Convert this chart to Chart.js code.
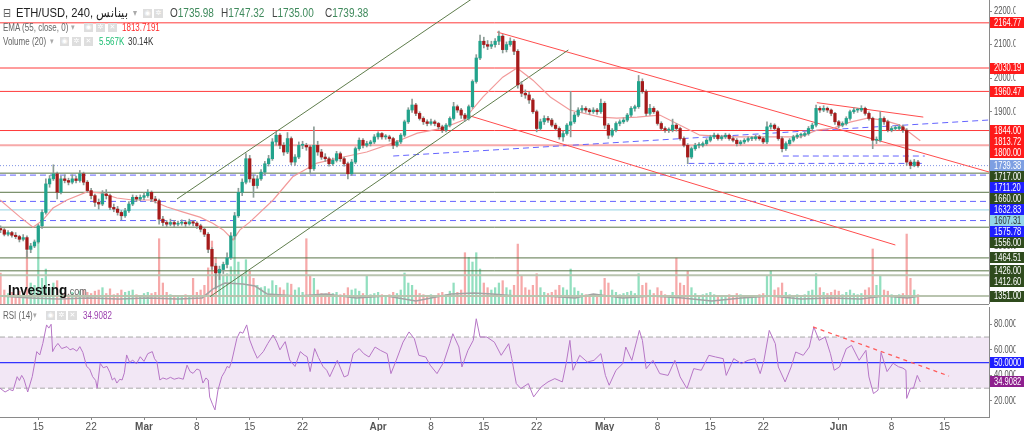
<!DOCTYPE html>
<html>
<head>
<meta charset="utf-8">
<title>ETH/USD 240</title>
<script src="https://cdn.jsdelivr.net/npm/chart.js@4"></script>
<style>
  body { margin: 0; width: 1024px; height: 431px; overflow: hidden; background: #fff; font-family: "Liberation Sans", Arial, sans-serif; position: relative; }
  canvas { position: absolute; left: 0; }
  #price { top: 0; }
  #rsi { top: 305px; }
  .sep { position: absolute; left: 0; width: 989px; top: 304px; height: 1px; background: #8a8a8a; }
  .t { position: absolute; white-space: nowrap; line-height: 1; transform: scaleX(0.8); transform-origin: 0 50%; }
  .ic { position: absolute; width: 9px; height: 9px; background: #dedede; color: #fff; font-size: 7px; line-height: 9px; text-align: center; font-family: "DejaVu Sans", sans-serif; }
</style>
</head>
<body>
<canvas id="price" width="1024" height="304"></canvas>
<div class="sep"></div>
<canvas id="rsi" width="1024" height="126"></canvas>

<!-- legend / header texts -->
<div class="t" style="left:3px;top:7px;font-size:12px;color:#555;font-family:'DejaVu Sans'">⊟</div>
<div class="t" style="left:16px;top:6px;font-size:13px;color:#222;transform:scaleX(0.86)">ETH/USD, 240, بينانس</div>
<div class="t" style="left:133px;top:8px;font-size:10px;color:#aaa">▾</div>
<div class="ic" style="left:143px;top:9px">◉</div><div class="ic" style="left:154px;top:9px">✲</div>
<div class="t" style="left:170px;top:7px;font-size:12.5px;color:#444">O<span style="color:#3f8a5c">1735.98</span></div>
<div class="t" style="left:221px;top:7px;font-size:12.5px;color:#444">H<span style="color:#3f8a5c">1747.32</span></div>
<div class="t" style="left:272px;top:7px;font-size:12.5px;color:#444">L<span style="color:#3f8a5c">1735.00</span></div>
<div class="t" style="left:325px;top:7px;font-size:12.5px;color:#444">C<span style="color:#3f8a5c">1739.38</span></div>

<div class="t" style="left:3px;top:23px;font-size:10px;color:#666">EMA (55, close, 0)</div>
<div class="t" style="left:71px;top:23px;font-size:9px;color:#aaa">▾</div>
<div class="ic" style="left:84px;top:23px">◉</div><div class="ic" style="left:96px;top:23px">✲</div><div class="ic" style="left:108px;top:23px">✕</div>
<div class="t" style="left:122px;top:23px;font-size:10px;color:#ff2b2b">1813.7191</div>

<div class="t" style="left:3px;top:37px;font-size:10px;color:#666">Volume (20)</div>
<div class="t" style="left:50px;top:37px;font-size:9px;color:#aaa">▾</div>
<div class="ic" style="left:60px;top:37px">◉</div><div class="ic" style="left:72px;top:37px">✲</div><div class="ic" style="left:84px;top:37px">✕</div>
<div class="t" style="left:99px;top:37px;font-size:10px;color:#1dbf73">5.567K</div>
<div class="t" style="left:128px;top:37px;font-size:10px;color:#333">30.14K</div>

<div class="t" style="left:8px;top:282px;font-size:15px;font-weight:bold;color:#111;transform:scaleX(0.9)">Investing<span style="font-size:10px;font-weight:normal;color:#666">.com</span></div>

<div class="t" style="left:3px;top:311px;font-size:10px;color:#666">RSI (14)</div>
<div class="t" style="left:33px;top:311px;font-size:9px;color:#aaa">▾</div>
<div class="ic" style="left:46px;top:311px">◉</div><div class="ic" style="left:57px;top:311px">✲</div><div class="ic" style="left:68px;top:311px">✕</div>
<div class="t" style="left:83px;top:311px;font-size:10px;color:#9b3fae">34.9082</div>

<script>
// 12h candles, [open, high, low, close]; first candle on 10 Feb (day -19 from 1 Mar)
const firstDay = -19;
const candleStep = 0.5;
const candles = [
[1552,1560,1540,1548],[1548,1552,1530,1535],[1535,1546,1530,1540],[1540,1544,1526,1532],[1532,1540,1522,1528],
[1528,1532,1512,1520],[1520,1534,1515,1525],[1525,1530,1468,1490],[1490,1508,1480,1500],[1500,1518,1495,1512],
[1512,1565,1508,1560],[1560,1608,1552,1600],[1600,1700,1595,1685],[1685,1710,1675,1700],[1700,1742,1695,1715],
[1715,1720,1640,1660],[1660,1708,1655,1700],[1700,1712,1688,1695],[1695,1702,1682,1690],[1690,1712,1685,1700],
[1700,1708,1688,1695],[1695,1725,1690,1715],[1715,1720,1682,1690],[1690,1695,1660,1665],[1665,1672,1640,1650],
[1650,1655,1618,1630],[1630,1640,1610,1625],[1625,1665,1620,1655],[1655,1668,1640,1650],[1650,1655,1608,1615],
[1615,1625,1602,1610],[1610,1618,1592,1600],[1600,1606,1578,1590],[1590,1612,1585,1605],[1605,1632,1600,1625],
[1625,1652,1620,1645],[1645,1650,1632,1640],[1640,1652,1635,1645],[1645,1658,1638,1650],[1650,1668,1645,1660],
[1660,1664,1632,1640],[1640,1648,1628,1635],[1635,1640,1565,1580],[1580,1588,1560,1570],[1570,1576,1558,1565],
[1565,1580,1560,1570],[1570,1576,1558,1565],[1565,1574,1560,1568],[1568,1578,1562,1570],[1570,1575,1558,1566],
[1566,1580,1562,1572],[1572,1576,1560,1568],[1568,1572,1552,1560],[1560,1565,1542,1550],[1550,1555,1528,1535],
[1535,1540,1480,1490],[1490,1495,1430,1440],[1440,1448,1372,1420],[1420,1440,1400,1430],[1430,1452,1418,1445],
[1445,1480,1435,1465],[1465,1540,1460,1530],[1530,1600,1520,1590],[1590,1672,1585,1660],[1660,1700,1650,1690],
[1690,1775,1685,1760],[1760,1770,1690,1700],[1700,1712,1645,1680],[1680,1710,1672,1700],[1700,1728,1695,1720],
[1720,1752,1712,1745],[1745,1770,1738,1760],[1760,1820,1755,1810],[1810,1840,1800,1830],[1830,1835,1790,1800],
[1800,1808,1770,1780],[1780,1838,1775,1820],[1820,1825,1742,1750],[1750,1772,1740,1765],[1765,1810,1760,1800],
[1800,1812,1790,1800],[1800,1806,1785,1795],[1795,1800,1715,1730],[1730,1855,1725,1800],[1800,1812,1770,1780],
[1780,1788,1758,1765],[1765,1775,1752,1760],[1760,1765,1738,1745],[1745,1762,1740,1755],[1755,1782,1750,1775],
[1775,1780,1752,1760],[1760,1765,1738,1745],[1745,1750,1700,1715],[1715,1758,1710,1750],[1750,1795,1745,1790],
[1790,1822,1785,1815],[1815,1820,1792,1800],[1800,1812,1795,1805],[1805,1815,1798,1810],[1810,1832,1805,1825],
[1825,1840,1818,1835],[1835,1838,1818,1825],[1825,1832,1818,1825],[1825,1830,1812,1820],[1820,1824,1790,1800],
[1800,1815,1795,1810],[1810,1835,1805,1830],[1830,1875,1825,1870],[1870,1912,1865,1905],[1905,1938,1898,1920],
[1920,1925,1888,1895],[1895,1900,1875,1880],[1880,1885,1862,1870],[1870,1876,1858,1865],[1865,1878,1860,1870],
[1870,1875,1858,1865],[1865,1868,1848,1855],[1855,1860,1838,1845],[1845,1865,1840,1860],[1860,1885,1855,1880],
[1880,1928,1875,1915],[1915,1920,1898,1905],[1905,1910,1880,1890],[1890,1895,1872,1880],[1880,1920,1875,1915],
[1915,1995,1910,1990],[1990,2070,1985,2060],[2060,2128,2055,2110],[2110,2122,2090,2100],[2100,2112,2085,2095],
[2095,2110,2088,2100],[2100,2118,2092,2110],[2110,2140,2100,2125],[2125,2130,2075,2085],[2085,2108,2078,2100],
[2100,2120,2095,2110],[2110,2115,2070,2080],[2080,2085,1970,1980],[1980,1990,1945,1955],[1955,1965,1940,1950],
[1950,1958,1925,1935],[1935,1940,1895,1900],[1900,1905,1840,1850],[1850,1878,1845,1870],[1870,1888,1862,1880],
[1880,1886,1868,1875],[1875,1880,1855,1860],[1860,1866,1845,1850],[1850,1855,1818,1825],[1825,1842,1812,1835],
[1835,1865,1830,1860],[1860,1960,1825,1870],[1870,1898,1865,1890],[1890,1912,1885,1905],[1905,1918,1898,1910],
[1910,1915,1898,1905],[1905,1910,1892,1900],[1900,1912,1895,1905],[1905,1910,1892,1900],[1900,1938,1895,1925],
[1925,1930,1850,1860],[1860,1865,1820,1830],[1830,1850,1825,1845],[1845,1870,1840,1865],[1865,1876,1858,1870],
[1870,1882,1865,1875],[1875,1895,1870,1890],[1890,1915,1885,1910],[1910,1920,1902,1915],[1915,2008,1910,1990],
[1990,1998,1955,1960],[1960,1965,1888,1895],[1895,1922,1890,1910],[1910,1915,1895,1900],[1900,1904,1860,1865],
[1865,1870,1845,1850],[1850,1855,1838,1845],[1845,1852,1838,1845],[1845,1878,1840,1860],[1860,1865,1842,1850],
[1850,1854,1815,1820],[1820,1825,1795,1800],[1800,1805,1745,1765],[1765,1795,1760,1790],[1790,1806,1785,1800],
[1800,1808,1792,1800],[1800,1810,1795,1805],[1805,1820,1800,1815],[1815,1830,1810,1825],[1825,1836,1820,1830],
[1830,1834,1815,1820],[1820,1830,1815,1825],[1825,1836,1820,1830],[1830,1834,1815,1820],[1820,1825,1810,1815],
[1815,1820,1798,1805],[1805,1815,1800,1810],[1810,1820,1805,1815],[1815,1825,1810,1820],[1820,1826,1814,1820],
[1820,1830,1815,1825],[1825,1830,1815,1820],[1820,1824,1805,1810],[1810,1870,1805,1855],[1855,1866,1848,1860],
[1860,1864,1845,1850],[1850,1855,1815,1820],[1820,1825,1780,1790],[1790,1810,1785,1805],[1805,1820,1800,1815],
[1815,1830,1810,1825],[1825,1835,1820,1830],[1830,1836,1822,1830],[1830,1840,1826,1835],[1835,1856,1830,1850],
[1850,1866,1845,1860],[1860,1920,1855,1910],[1910,1915,1898,1905],[1905,1918,1900,1910],[1910,1914,1898,1905],
[1905,1908,1888,1895],[1895,1898,1862,1870],[1870,1874,1852,1860],[1860,1870,1855,1865],[1865,1885,1860,1880],
[1880,1905,1875,1900],[1900,1912,1895,1905],[1905,1910,1898,1905],[1905,1918,1900,1910],[1910,1914,1890,1895],
[1895,1900,1875,1880],[1880,1884,1790,1815],[1815,1825,1805,1815],[1815,1900,1810,1880],[1880,1885,1862,1870],
[1870,1875,1840,1845],[1845,1856,1840,1850],[1850,1858,1844,1850],[1850,1862,1846,1855],[1855,1860,1838,1845],
[1845,1850,1740,1750],[1750,1756,1730,1740],[1740,1758,1736,1750],[1750,1755,1735,1739.38]
];

// volume per candle (K)
const volumes = [
133,60,45,50,40,55,45,227,90,80, 270,110,150,70,90,100,60,45,40,50,
40,55,60,50,45,55,60,70,45,65, 40,45,60,50,55,60,40,35,45,50,
45,50,280,90,50,40,35,30,35,40, 35,110,50,60,80,155,270,200,150,120,
130,160,335,180,120,190,140,110,80,70, 75,65,100,80,70,60,90,85,60,70,
50,280,120,110,60,45,40,50,45,50, 40,45,70,60,65,55,45,120,40,45,
50,40,35,40,50,45,60,133,90,80, 60,45,40,35,40,35,45,50,40,55,
90,50,60,220,200,180,220,150,90,70, 60,70,90,100,70,60,80,257,120,70,
60,80,130,70,50,45,50,60,80,70, 60,150,70,55,45,40,35,40,35,60,
110,90,60,50,40,45,50,55,45,130, 80,90,60,45,70,55,40,35,50,197,
90,80,140,70,45,35,40,45,50,40, 35,30,35,40,35,45,40,30,35,30,
35,40,45,120,141,60,70,90,50,40, 35,40,35,40,55,60,130,70,50,45,
50,60,55,40,50,60,45,40,45,60, 70,236,80,120,60,55,40,35,40,45,
300,110,60,40
];

// [day, value] readings of the smooth indicator lines
const volumeMA = [[-19.07,34],[-15.1,26],[-11.3,21],[-7.3,26],[-3.3,21],[0.5,26],[4.5,21],[7.7,26],[9.1,64],[10.7,90],
  [13.1,86],[14.7,77],[16.3,43],[20.3,34],[24.1,43],[28.1,26],[32.1,34],[36,13],[40.7,43],[43.7,47],[46.1,43],[49.3,34],
  [53.2,34],[57.1,26],[59.5,43],[63.4,26],[67.3,34],[71.3,26],[75.2,13],[79.1,26],[83.1,34],[87,21],[90.9,26],[94.9,21],
  [98,34],[101.1,26],[102.8,34]];

const ema55 = [[-19.07,1637],[-16.4,1586],[-14.7,1556],[-13.4,1577],[-12.05,1613],[-10.2,1637],[-7.55,1661],[-5.8,1658],
  [-3.6,1643],[-1.5,1637],[0.8,1637],[3.05,1616],[5.2,1601],[7.4,1586],[9.1,1568],[10.5,1548],[11.8,1518],[12.7,1548],
  [14,1571],[17.1,1637],[19.7,1706],[22.9,1747],[26.4,1765],[29.5,1780],[33,1807],[36.2,1836],[39.6,1851],[42.3,1875],
  [44.9,1944],[47.5,2003],[49.4,2030],[51.5,1994],[53.8,1944],[56.4,1905],[60.4,1884],[62.6,1881],[65.3,1884],[68.3,1890],
  [71.4,1855],[73.6,1830],[78,1825],[82.5,1825],[86.9,1825],[89.1,1845],[91.3,1851],[93.5,1869],[95.8,1881],[97.9,1875],
  [100.1,1860],[102.8,1813.72]];

const rsi14 = [[-19.07,30],[-18.4,27],[-17.8,29],[-17.35,28],[-16.8,39],[-16.5,36],[-16.2,40],[-15.9,37],[-15.4,27],[-14.8,39],
  [-14.2,58.6],[-13.8,56],[-13.4,65],[-12.9,79.5],[-12.6,77],[-12.3,80],[-12.1,58.6],[-11.8,62],[-11.4,65],[-10.9,61],
  [-10.2,62.5],[-9.8,60],[-9.4,61],[-8.9,59],[-8.5,62.5],[-8.1,58],[-7.6,47],[-7.2,45],[-6.8,39],[-6.4,36],[-6.2,30],
  [-5.8,49.5],[-5.4,46],[-4.9,47],[-4.5,42],[-4.2,36.4],[-3.9,38],[-3.6,34],[-3.2,37],[-2.9,36.4],[-2.6,42],[-2.3,56],
  [-1.9,50],[-1.5,52],[-1,49],[-0.5,54.6],[0,51],[0.5,57],[1.1,58.6],[1.4,53],[1.7,50.7],[2.1,36.4],[2.5,38],[3,37],
  [3.5,38.5],[4,37],[4.6,38],[5.2,37],[5.7,48],[6.1,43],[6.5,41.6],[7,45],[7.4,44],[7.8,34],[8.2,38],[8.5,36.4],[8.7,23],
  [9.1,17],[9.4,13],[9.8,28.6],[10.3,39],[10.7,43],[11,47],[11.3,46],[11.6,50.7],[12.3,69],[12.7,74],[13.1,73],[13.6,79.5],
  [14,67.7],[14.5,60],[15,53.4],[15.4,56],[15.8,58.6],[16.4,65],[17.1,71.6],[17.6,66],[18,60],[18.7,66.4],[19.3,52],[20,47],
  [20.7,58.6],[21.2,56],[21.6,54.6],[22,43],[22.6,61],[23.1,54],[23.7,47],[24.2,44],[24.6,39],[25.6,51.8],[26.5,38.8],
  [27,40],[27.7,57],[28.5,61],[29.1,57],[29.8,54.4],[30.6,62.2],[31.3,59.6],[32.2,57],[32.7,41.4],[33.4,51.8],[34.3,66],
  [35.1,74],[35.8,68.7],[36.4,55.7],[37.3,54.4],[37.9,48],[38.8,41.4],[39.7,50.5],[40.5,64.8],[40.9,72.6],[41.7,62.2],
  [42.1,46.6],[42.9,59.6],[43.6,67.4],[44,84.3],[44.5,70],[45.4,70],[46.4,66],[47.3,55.7],[48.3,64.8],[48.7,53.1],
  [49.3,33.6],[49.9,29.7],[50.9,33.6],[51.6,23.2],[52.6,31],[53.5,34.9],[54.4,37.5],[55.4,34.9],[55.9,49.2],[56.4,67.4],
  [56.8,44],[57.7,55.7],[58.7,50.5],[59.6,51.8],[60.5,57],[61.1,40],[61.6,32.3],[62.5,44],[63.4,49.2],[63.8,62.2],
  [64.6,51.8],[65.6,75.2],[66,67.4],[66.5,45.3],[67.4,51.8],[68.3,41.4],[69.4,40],[70.3,51.8],[71,38.8],[71.9,29.7],
  [72.8,45.3],[73.8,44],[74.8,55.7],[75.7,54.4],[76.7,53.1],[77.1,40],[78.1,53.1],[79.1,49.2],[80,51.8],[80.9,53.1],
  [81.6,41.4],[82.1,51.8],[82.8,75.2],[83.6,64.8],[84,46.6],[84.9,34.9],[85.7,46.6],[86.3,58.3],[87.3,55.7],[88.1,62.2],
  [88.7,77.8],[89.4,67.4],[90.2,70],[90.9,57],[91.4,44],[92.1,46.6],[93,60.9],[93.7,63.5],[94.7,51.8],[95.6,59.6],
  [96,38.8],[96.6,25.8],[97.2,28.4],[97.6,58],[98.4,43],[99.2,49.5],[99.9,46.8],[100.5,45.7],[100.9,44],[101,22],
  [101.5,30],[101.9,30],[102.4,40],[102.8,34.9082]];

// horizontal levels drawn on the chart
const levelPrices = [2164.77, 2030.19, 1960.47, 1844.00, 1800.00, 1739.38, 1717.00, 1711.20, 1660.00, 1632.83, 1607.31, 1575.78, 1556.00, 1464.51, 1426.00, 1412.60, 1351.00];
const levelKinds  = ['res','res','res','res','resSoft','last','sup','dash','sup','dash','cyan','dash','sup','sup','sup','supSoft','supSoft'];

// trend lines: [day, price] end points
const trendUpper   = [[4.37,1640],[44,2245]];
const trendLower   = [[8.74,1349],[56.2,2084]];
const downUpper    = [[46.75,2137.4],[111.9,1720.4]];
const downLower    = [[42.8,1890],[99.5,1503]];
const wedgeTop     = [[89.1,1927],[103.2,1884]];
const blueRising   = [[33,1768],[111.9,1875.3]];
const blueFlatA    = [[84.6,1768],[103.4,1768]];
const blueFlatB    = [[72.1,1746],[103,1746]];
const rsiTrend     = [[88.6,77.9],[106.6,39.5]];

const emaLast = 1813.72;
const rsiLast = 34.9082;

// axes
const dayMin = -19.07, dayMax = 111.9;
const tickDays   = [-14,-7,0,7,14,21,31,38,45,52,61,68,75,82,92,99,106];
const tickLabels = ['15','22','Mar','8','15','22','Apr','8','15','22','May','8','15','22','Jun','8','15'];
const priceTicks = [1400,1500,1600,1700,1800,1900,2000,2100,2200];
const rsiTicks   = [20,40,60,80];

const BULL = '#22a38c', BEAR = '#a51b1b';
const tickFont = { family: "'Liberation Sans',Arial,sans-serif", size: 10.5 };
const SQUEEZE = 0.72;

const kindStyle = {
  res:     { color: '#ff3b3b', width: 1,   dash: [],    tag: '#ff1a1a', text: '#fff' },
  resSoft: { color: '#f7a9a9', width: 2,   dash: [],    tag: '#ff1a1a', text: '#fff' },
  last:    { color: '#7f93e3', width: 1,   dash: [1,2], tag: '#7d9fe2', text: '#fff' },
  sup:     { color: '#5a7547', width: 1,   dash: [],    tag: '#2f4b1d', text: '#fff' },
  supSoft: { color: '#b9c4af', width: 2,   dash: [],    tag: '#2f4b1d', text: '#fff' },
  dash:    { color: '#6464ff', width: 1,   dash: [6,4], tag: '#1f1fff', text: '#fff' },
  cyan:    { color: '#a8dbe8', width: 1.2, dash: [],    tag: '#94d6e8', text: '#333' }
};

const dayOf = i => firstDay + i * candleStep;
const pts = arr => arr.map(p => ({ x: p[0], y: p[1] }));
const seg = (arr, color, width, dash, order) => ({
  type: 'line', data: pts(arr), borderColor: color, borderWidth: width, borderDash: dash,
  pointRadius: 0, fill: false, tension: 0, order
});

// the screenshot is horizontally narrow: squeeze the right-axis label text
const squeezeLabels = {
  id: 'squeezeLabels',
  beforeDraw(chart) {
    const s = chart.scales.y;
    if (!s || s._squeezed) return;
    const orig = s.drawLabels;
    s.drawLabels = function (area) {
      const ctx = this.ctx, x0 = this.left + 5;
      ctx.save();
      ctx.translate(x0, 0); ctx.scale(SQUEEZE, 1); ctx.translate(-x0, 0);
      orig.call(this, area);
      ctx.restore();
    };
    s._squeezed = true;
  }
};

// coloured value tags on the right axis, overlaps pushed down
const axisTags = {
  id: 'axisTags',
  afterDraw(chart, args, opts) {
    const s = chart.scales[opts.axis];
    const { ctx, chartArea } = chart;
    const tags = opts.tags.map(t => ({ ...t, y: s.getPixelForValue(t.value) })).sort((a, b) => a.y - b.y);
    let last = -1e9;
    ctx.save();
    ctx.font = tickFont.size + 'px ' + tickFont.family;
    ctx.textBaseline = 'middle';
    tags.forEach(t => {
      const y = Math.max(t.y, last + 11);
      last = y;
      ctx.fillStyle = t.bg;
      ctx.fillRect(chartArea.right + 1, Math.round(y - 5.5), 35, 11);
      const x0 = chartArea.right + 5;
      ctx.save();
      ctx.translate(x0, 0); ctx.scale(SQUEEZE, 1);
      ctx.fillStyle = t.fg;
      ctx.fillText(t.text, 0, y + 0.5);
      ctx.restore();
    });
    ctx.restore();
  }
};

const fixY = s => { s.width = 35; s.paddingTop = 0; s.paddingBottom = 0; };

// ---------- price chart ----------
const wicks = candles.map((c, i) => ({ x: dayOf(i), y: [c[2], c[1]] }));
const bodies = candles.map((c, i) => ({ x: dayOf(i), y: [Math.min(c[0], c[3]), Math.max(c[0], c[3])] }));
const bodyColors = candles.map(c => c[3] >= c[0] ? BULL : BEAR);
const volData = volumes.map((v, i) => ({ x: dayOf(i), y: v }));
const volColors = candles.map(c => c[3] >= c[0] ? '#92dfbf' : '#f6a9a9');

const levelSets = levelPrices.map((p, i) => {
  const st = kindStyle[levelKinds[i]];
  return seg([[dayMin, p], [dayMax, p]], st.color, st.width, st.dash, 9);
});

const priceTags = levelPrices.map((p, i) => {
  const st = kindStyle[levelKinds[i]];
  return { value: p, text: p.toFixed(2), bg: st.tag, fg: st.text };
});
priceTags.push({ value: emaLast, text: emaLast.toFixed(2), bg: '#ff1a1a', fg: '#fff' });

new Chart(document.getElementById('price'), {
  type: 'line',
  data: {
    datasets: [
      { type: 'bar', data: volData, yAxisID: 'yVol', backgroundColor: volColors, barThickness: 1.6, grouped: false, order: 12 },
      { ...seg(volumeMA, '#a3a3a3', 1.5, [], 11), yAxisID: 'yVol' },
      ...levelSets,
      seg(trendUpper, '#5f7d4c', 1, [], 7),
      seg(trendLower, '#5f7d4c', 1, [], 7),
      seg(downUpper, '#ff4d4d', 1, [], 7),
      seg(downLower, '#ff4d4d', 1, [], 7),
      seg(wedgeTop, '#ff4d4d', 1, [], 7),
      seg(blueRising, '#6464ff', 1, [6,4], 7),
      seg(blueFlatA, '#6464ff', 1, [6,4], 7),
      seg(blueFlatB, '#6464ff', 1, [6,4], 7),
      seg(ema55, '#f29a9a', 1.2, [], 5),
      { type: 'bar', data: wicks, backgroundColor: '#8c9c96', barThickness: 1, grouped: false, order: 3 },
      { type: 'bar', data: bodies, backgroundColor: bodyColors, barThickness: 2.6, minBarLength: 1, grouped: false, order: 2 }
    ]
  },
  options: {
    responsive: false, animation: false, devicePixelRatio: 1,
    layout: { padding: 0 },
    plugins: { legend: { display: false }, tooltip: { enabled: false },
      axisTags: { axis: 'y', tags: priceTags } },
    scales: {
      x: { type: 'linear', display: false, min: dayMin, max: dayMax, offset: false },
      y: {
        position: 'right', min: 1327.2, max: 2232.8, beginAtZero: false,
        afterBuildTicks: s => { s.ticks = priceTicks.map(v => ({ value: v })); },
        afterFit: fixY,
        border: { color: '#8a8a8a' },
        grid: { drawOnChartArea: false, drawTicks: true, tickLength: 3, color: '#8a8a8a' },
        ticks: { padding: 2, color: '#555', font: tickFont, callback: v => Number(v).toFixed(2) }
      },
      yVol: { display: false, min: 0, max: 1304 }
    }
  },
  plugins: [squeezeLabels, axisTags]
});

// ---------- RSI chart ----------
const monthIdx = [2, 6, 10, 14];
new Chart(document.getElementById('rsi'), {
  type: 'line',
  data: {
    datasets: [
      seg([[dayMin, 70], [dayMax, 70]], '#aaaaaa', 1, [5,3], 6),
      { ...seg([[dayMin, 30], [dayMax, 30]], '#aaaaaa', 1, [5,3], 6), fill: '-1', backgroundColor: 'rgba(150,60,170,0.12)' },
      seg([[dayMin, 50], [dayMax, 50]], '#3333ff', 1.2, [], 5),
      seg(rsi14, '#b676c6', 1, [], 2),
      seg(rsiTrend, '#ff5c5c', 1.3, [4,4], 1)
    ]
  },
  options: {
    responsive: false, animation: false, devicePixelRatio: 1,
    layout: { padding: { top: 2 } },
    plugins: { legend: { display: false }, tooltip: { enabled: false }, filler: { propagate: false },
      axisTags: { axis: 'y', tags: [
        { value: 50, text: '50.0000', bg: '#1f1fff', fg: '#fff' },
        { value: rsiLast, text: rsiLast.toFixed(4), bg: '#8e1f8e', fg: '#fff' }
      ] } },
    scales: {
      x: {
        type: 'linear', min: dayMin, max: dayMax, offset: false,
        afterBuildTicks: s => { s.ticks = tickDays.map(v => ({ value: v })); },
        afterFit: s => { s.height = 14; s.paddingLeft = 0; s.paddingRight = 0; },
        border: { color: '#8a8a8a' },
        grid: { drawOnChartArea: false, drawTicks: true, tickLength: 3, color: '#8a8a8a' },
        ticks: { autoSkip: false, maxRotation: 0, padding: 1, color: '#555',
          font: c => ({ family: "'Liberation Sans',Arial,sans-serif", size: 10, weight: monthIdx.includes(c.index) ? 'bold' : 'normal' }),
          callback: (v, i) => tickLabels[i] }
      },
      y: {
        position: 'right', min: 7.46, max: 93.5,
        afterBuildTicks: s => { s.ticks = rsiTicks.map(v => ({ value: v })); },
        afterFit: fixY,
        border: { color: '#8a8a8a' },
        grid: { drawOnChartArea: false, drawTicks: true, tickLength: 3, color: '#8a8a8a' },
        ticks: { padding: 2, color: '#555', font: tickFont, callback: v => Number(v).toFixed(4) }
      }
    }
  },
  plugins: [squeezeLabels, axisTags]
});
</script>
</body>
</html>
